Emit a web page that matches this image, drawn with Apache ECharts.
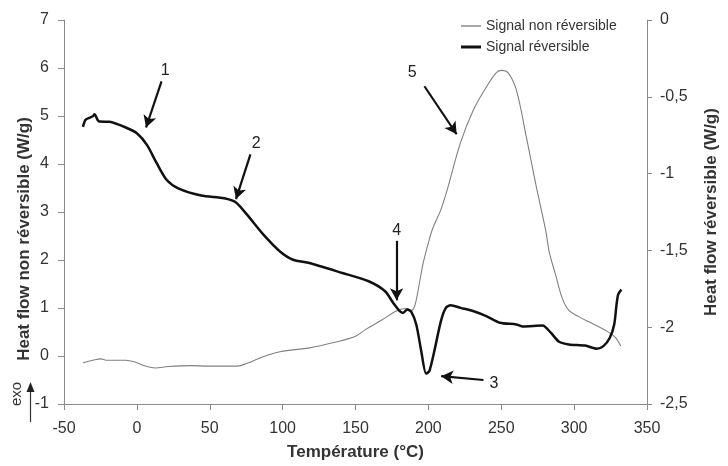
<!DOCTYPE html>
<html>
<head>
<meta charset="utf-8">
<script src="https://cdn.jsdelivr.net/npm/echarts@6/dist/echarts.min.js"></script>
<style>html,body{margin:0;padding:0;background:#fff;}#c{width:728px;height:466px;}</style>
</head>
<body>
<div id="c"></div>
<script>
// Non-reversible signal (left axis, W/g)
var tempNR = [-37.0,-30.2,-24.5,-21.1,-7.6,-0.9,5.9,12.6,21.6,37.4,48.6,68.9,75.7,87.0,98.2,118.4,136.5,150.0,156.8,168.0,177.0,181.6,184.9,188.3,190.5,192.8,196.1,199.5,202.9,208.6,213.1,222.1,231.1,240.1,246.8,250.2,254.7,260.3,267.1,273.9,280.6,282.9,287.4,291.9,296.4,303.2,312.2,321.1,327.9,332.0];
var heatNR = [-0.14,-0.09,-0.06,-0.09,-0.09,-0.13,-0.21,-0.25,-0.22,-0.20,-0.21,-0.21,-0.15,-0.01,0.09,0.17,0.29,0.41,0.55,0.75,0.92,0.98,0.99,0.95,1.03,1.34,1.89,2.30,2.65,3.05,3.48,4.45,5.14,5.62,5.91,5.95,5.90,5.55,4.58,3.55,2.60,2.17,1.68,1.20,0.95,0.82,0.68,0.54,0.40,0.21];
// Reversible signal (right axis, W/g)
var tempR = [-37.0,-35.1,-30.2,-29.1,-26.8,-25.7,-18.9,-7.6,0.2,7.0,13.7,20.5,28.4,44.1,59.9,67.8,75.7,87.0,98.2,107.2,118.4,141.0,159.0,170.3,175.9,180.4,182.6,185.6,188.3,191.7,195.1,198.4,200.7,204.1,208.6,212.0,215.3,222.1,231.1,240.1,249.1,260.3,264.9,278.4,284.0,289.7,296.4,307.6,315.5,320.1,324.5,327.5,329.1,330.2,332.4];
var heatR = [-0.696,-0.649,-0.627,-0.614,-0.653,-0.661,-0.663,-0.700,-0.739,-0.815,-0.934,-1.042,-1.096,-1.143,-1.161,-1.187,-1.269,-1.399,-1.507,-1.561,-1.582,-1.647,-1.701,-1.766,-1.842,-1.896,-1.907,-1.885,-1.900,-1.982,-2.155,-2.302,-2.285,-2.155,-1.960,-1.874,-1.857,-1.874,-1.896,-1.929,-1.971,-1.982,-1.995,-1.989,-2.036,-2.095,-2.112,-2.119,-2.140,-2.123,-2.069,-1.982,-1.853,-1.788,-1.755];
// Tick settings
var xTicks = {min: -50, max: 350, interval: 50};
var yLeftTicks = {min: -1, max: 7, interval: 1};
var yRightTicks = {min: -2.5, max: 0, interval: 0.5};
// Annotation arrows (left-axis data coordinates): label, tail, head, label position
var arrowLabels = ['1','2','3','4','5'];
var arrowTails = [[16.9,5.72],[77.9,4.20],[237.8,-0.50],[178.2,2.40],[197.3,5.62]];
var arrowHeads = [[6.3,4.76],[68.0,3.27],[208.8,-0.42],[178.2,1.16],[219.4,4.62]];
var labelPos = [[19.4,5.94],[81.8,4.43],[245.0,-0.58],[178.2,2.61],[188.9,5.90]];

function zip(a,b){return a.map(function(v,i){return [v,b[i]];});}
var FONT = 'Liberation Sans, Arial, Helvetica, sans-serif';
var AX = '#8a8a8a', TXT = '#333';

var chart = echarts.init(document.getElementById('c'));
chart.setOption({
  animation: false,
  textStyle: {fontFamily: FONT},
  grid: {left: 64, right: 72, top: 20, bottom: 60},
  legend: [{
    orient: 'vertical', left: 456, top: 14, itemWidth: 20, itemHeight: 1.5, icon: 'rect',
    textStyle: {fontSize: 14, color: TXT, fontFamily: FONT},
    data: ['Signal non réversible']
  }, {
    orient: 'vertical', left: 456, top: 35, itemWidth: 20, itemHeight: 3, icon: 'rect',
    textStyle: {fontSize: 14, color: TXT, fontFamily: FONT},
    data: ['Signal réversible']
  }],
  xAxis: {
    type: 'value', min: xTicks.min, max: xTicks.max, interval: xTicks.interval,
    name: 'Température (°C)', nameLocation: 'middle', nameGap: 40,
    nameTextStyle: {fontSize: 17, fontWeight: 'bold', color: TXT, fontFamily: FONT},
    axisLine: {onZero: false, lineStyle: {color: AX, width: 1}},
    axisTick: {show: true, length: 6, lineStyle: {color: AX}},
    axisLabel: {fontSize: 16, color: TXT, margin: 17},
    splitLine: {show: false}
  },
  yAxis: [{
    type: 'value', position: 'left', min: yLeftTicks.min, max: yLeftTicks.max, interval: yLeftTicks.interval,
    axisLine: {show: true, onZero: false, lineStyle: {color: AX, width: 1}},
    axisTick: {show: true, length: 6, lineStyle: {color: AX}},
    axisLabel: {fontSize: 16, color: TXT, margin: 15},
    splitLine: {show: false}
  }, {
    type: 'value', position: 'right', min: yRightTicks.min, max: yRightTicks.max, interval: yRightTicks.interval,
    name: 'Heat flow réversible (W/g)', nameLocation: 'middle', nameGap: 56, nameRotate: 90,
    nameTextStyle: {fontSize: 17, fontWeight: 'bold', color: TXT, fontFamily: FONT},
    axisLine: {show: true, onZero: false, lineStyle: {color: AX, width: 1}},
    axisTick: {show: true, length: 5, lineStyle: {color: AX}},
    axisLabel: {fontSize: 16, color: TXT, margin: 13, formatter: function(v){return String(v).replace('.', ',');}},
    splitLine: {show: false}
  }],
  series: [{
    name: 'Signal non réversible', type: 'line', yAxisIndex: 0, showSymbol: false, symbol: 'none',
    smooth: 0.35, data: zip(tempNR, heatNR),
    lineStyle: {color: '#808080', width: 1.1}, itemStyle: {color: '#8a8a8a'},
    markLine: {
      silent: true, symbol: ['none', 'arrow'], symbolSize: [10, 12],
      lineStyle: {color: '#111', width: 2.2, type: 'solid'},
      label: {show: false},
      data: arrowTails.map(function(t,i){return [{coord: t}, {coord: arrowHeads[i]}];})
    },
    markPoint: {
      silent: true, symbol: 'circle', symbolSize: 1, itemStyle: {color: 'rgba(0,0,0,0)'},
      label: {show: true, position: 'inside', fontSize: 16, color: '#222', fontFamily: FONT,
        formatter: function(p){return p.name;}},
      data: labelPos.map(function(p,i){return {name: arrowLabels[i], coord: p};})
    },
    z: 2
  }, {
    name: 'Signal réversible', type: 'line', yAxisIndex: 1, showSymbol: false, symbol: 'none',
    smooth: 0.25, data: zip(tempR, heatR),
    lineStyle: {color: '#111', width: 2.5}, itemStyle: {color: '#111'},
    z: 3
  }],
  graphic: [
    {type: 'text', x: 24, y: 239, rotation: Math.PI/2,
     style: {text: 'Heat flow non réversible (W/g)', font: 'bold 17px ' + FONT, fill: TXT, textAlign: 'center', textVerticalAlign: 'middle'}},
    {type: 'text', x: 17, y: 394, rotation: Math.PI/2,
     style: {text: 'exo', font: '15px ' + FONT, fill: TXT, textAlign: 'center', textVerticalAlign: 'middle'}},
    {type: 'line', shape: {x1: 30.5, y1: 422, x2: 30.5, y2: 390}, style: {stroke: '#333', lineWidth: 1.2}},
    {type: 'polygon', shape: {points: [[30.5, 382], [26.5, 392], [34.5, 392]]}, style: {fill: '#222'}}
  ]
});
</script>
</body>
</html>
